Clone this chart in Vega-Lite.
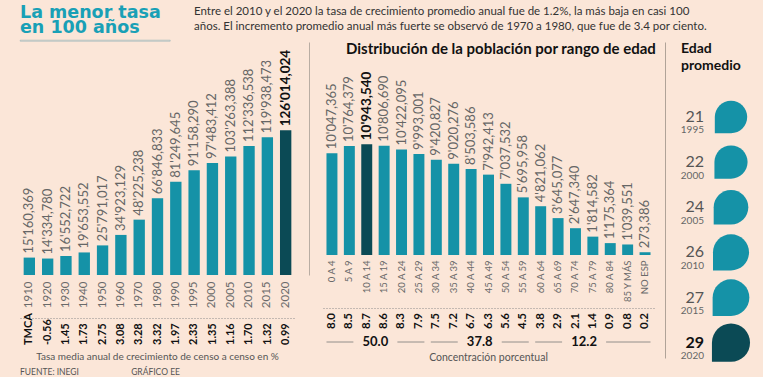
{
  "$schema": "https://vega.github.io/schema/vega-lite/v6.json",
  "background": "#fbe6d8",
  "padding": {"left": 19, "top": 3, "right": 0, "bottom": 0},
  "config": {
    "font": "Lato",
    "view": {"stroke": null},
    "axis": {"grid": false, "ticks": false, "title": null, "labelFont": "Lato", "minExtent": 0},
    "title": {"font": "Lato"}
  },
  "datasets": {
    "pop": [
      {"year": "1910", "pop": 15160369, "label": "15'160,369", "tmca": "TMCA"},
      {"year": "1920", "pop": 14334780, "label": "14'334,780", "tmca": "-0.56"},
      {"year": "1930", "pop": 16552722, "label": "16'552,722", "tmca": "1.45"},
      {"year": "1940", "pop": 19653552, "label": "19'653,552", "tmca": "1.73"},
      {"year": "1950", "pop": 25791017, "label": "25'791,017", "tmca": "2.75"},
      {"year": "1960", "pop": 34923129, "label": "34'923,129", "tmca": "3.08"},
      {"year": "1970", "pop": 48225238, "label": "48'225,238", "tmca": "3.28"},
      {"year": "1980", "pop": 66846833, "label": "66'846,833", "tmca": "3.32"},
      {"year": "1990", "pop": 81249645, "label": "81'249,645", "tmca": "1.97"},
      {"year": "1995", "pop": 91158290, "label": "91'158,290", "tmca": "2.33"},
      {"year": "2000", "pop": 97483412, "label": "97'483,412", "tmca": "1.35"},
      {"year": "2005", "pop": 103263388, "label": "103'263,388", "tmca": "1.16"},
      {"year": "2010", "pop": 112336538, "label": "112'336,538", "tmca": "1.70"},
      {"year": "2015", "pop": 119938473, "label": "119'938,473", "tmca": "1.32"},
      {"year": "2020", "pop": 126014024, "label": "126'014,024", "tmca": "0.99"}
    ],
    "age": [
      {"grupo": "0 A 4", "pop": 10047365, "label": "10'047,365", "pct": 8.0},
      {"grupo": "5 A 9", "pop": 10764379, "label": "10'764,379", "pct": 8.5},
      {"grupo": "10 A 14", "pop": 10943540, "label": "10'943,540", "pct": 8.7},
      {"grupo": "15 A 19", "pop": 10806690, "label": "10'806,690", "pct": 8.6},
      {"grupo": "20 A 24", "pop": 10422095, "label": "10'422,095", "pct": 8.3},
      {"grupo": "25 A 29", "pop": 9993001, "label": "9'993,001", "pct": 7.9},
      {"grupo": "30 A 34", "pop": 9420827, "label": "9'420,827", "pct": 7.5},
      {"grupo": "35 A 39", "pop": 9020276, "label": "9'020,276", "pct": 7.2},
      {"grupo": "40 A 44", "pop": 8503586, "label": "8'503,586", "pct": 6.7},
      {"grupo": "45 A 49", "pop": 7942413, "label": "7'942,413", "pct": 6.3},
      {"grupo": "50 A 54", "pop": 7037532, "label": "7'037,532", "pct": 5.6},
      {"grupo": "55 A 59", "pop": 5695958, "label": "5'695,958", "pct": 4.5},
      {"grupo": "60 A 64", "pop": 4821062, "label": "4'821,062", "pct": 3.8},
      {"grupo": "65 A 69", "pop": 3645077, "label": "3'645,077", "pct": 2.9},
      {"grupo": "70 A 74", "pop": 2647340, "label": "2'647,340", "pct": 2.1},
      {"grupo": "75 A 79", "pop": 1814582, "label": "1'814,582", "pct": 1.4},
      {"grupo": "80 A 84", "pop": 1175364, "label": "1'175,364", "pct": 0.9},
      {"grupo": "85 Y MÁS", "pop": 1039551, "label": "1'039,551", "pct": 0.8},
      {"grupo": "NO ESP", "pop": 273386, "label": "273,386", "pct": 0.2}
    ],
    "grp": [
      {"total": "50.0", "first": "0 A 4", "last": "25 A 29", "center": "15 A 19"},
      {"total": "37.8", "first": "30 A 34", "last": "55 A 59", "center": "45 A 49"},
      {"total": "12.2", "first": "60 A 64", "last": "NO ESP", "center": "75 A 79"}
    ],
    "avg": [
      {"year": "1995", "edad": 21},
      {"year": "2000", "edad": 22},
      {"year": "2005", "edad": 24},
      {"year": "2010", "edad": 26},
      {"year": "2015", "edad": 27},
      {"year": "2020", "edad": 29}
    ]
  },
  "spacing": 0,
  "vconcat": [
    {
      "bounds": "flush",
      "spacing": 24,
      "hconcat": [
        {
          "width": 150,
          "height": 1,
          "view": {"stroke": "#9fb7bb", "strokeWidth": 0.7},
          "title": {"text": ["La menor tasa", "en 100 años"], "anchor": "start", "font": "DejaVu Sans", "fontSize": 17.5, "fontWeight": "bold", "color": "#19a0b6", "lineHeight": 14.5, "offset": 4},
          "data": {"values": []},
          "mark": "point"
        },
        {
          "width": 1,
          "height": 1,
          "title": {"text": ["Entre el 2010 y el 2020 la tasa de crecimiento promedio anual fue de 1.2%, la más baja en casi 100", "años. El incremento promedio anual más fuerte se observó de 1970 a 1980, que fue de 3.4 por ciento."], "anchor": "start", "fontSize": 11.5, "fontWeight": "normal", "color": "#333333", "lineHeight": 15, "offset": 8},
          "data": {"values": []},
          "mark": "point"
        }
      ]
    },
    {
      "spacing": 14,
      "hconcat": [
        {
          "spacing": 5,
          "title": {"text": "FUENTE: INEGI\u00a0\u00a0\u00a0\u00a0\u00a0\u00a0\u00a0\u00a0\u00a0\u00a0\u00a0\u00a0\u00a0\u00a0\u00a0\u00a0\u00a0\u00a0\u00a0\u00a0\u00a0\u00a0\u00a0\u00a0GRÁFICO EE", "orient": "bottom", "anchor": "start", "fontSize": 8.5, "fontWeight": "normal", "color": "#555555", "offset": 6},
          "vconcat": [
            {
              "width": 275,
              "height": 233,
              "data": {"name": "pop"},
              "encoding": {
                "x": {"field": "year", "type": "ordinal", "scale": {"domain": ["1910","1920","1930","1940","1950","1960","1970","1980","1990","1995","2000","2005","2010","2015","2020"], "paddingInner": 0.38, "paddingOuter": 0.2}, "axis": {"labelAngle": 270, "labelColor": "#6a6a6a", "labelFontSize": 11.5, "labelPadding": 6, "domainOpacity": 0}},
                "y": {"field": "pop", "type": "quantitative", "scale": {"domain": [0, 203000000]}, "axis": {"orient": "right", "offset": 14, "labels": false, "domainColor": "#b9ada3"}}
              },
              "layer": [
                {"mark": {"type": "bar"}, "encoding": {"color": {"condition": {"test": "datum.year === '2020'", "value": "#0b4a55"}, "value": "#1592a7"}}},
                {"transform": [{"filter": "datum.year !== '2020'"}], "mark": {"type": "text", "angle": 270, "align": "left", "baseline": "middle", "dx": 4, "fontSize": 13, "color": "#666666"}, "encoding": {"text": {"field": "label"}}},
                {"transform": [{"filter": "datum.year === '2020'"}], "mark": {"type": "text", "angle": 270, "align": "left", "baseline": "middle", "dx": 4, "fontSize": 13.5, "fontWeight": "bold", "color": "#111111"}, "encoding": {"text": {"field": "label"}}},
                {"data": {"values": [{}]}, "mark": {"type": "text", "text": ["Evolución de la", "población en", "México"], "align": "left", "baseline": "top", "fontSize": 15, "fontWeight": "bold", "lineHeight": 16, "color": "#111111"}, "encoding": {"x": {"datum": "1910", "bandPosition": 0}, "y": {"datum": 182000000}}}
              ]
            },
            {
              "width": 275,
              "height": 30,
              "data": {"name": "pop"},
              "title": {"text": "Tasa media anual de crecimiento de censo a censo en %", "orient": "bottom", "fontSize": 10, "fontWeight": "normal", "color": "#555555", "offset": 4},
              "mark": {"type": "text", "angle": 270, "align": "left", "baseline": "middle", "dx": -12, "fontSize": 11, "fontWeight": "bold", "color": "#111111"},
              "encoding": {
                "x": {"field": "year", "type": "ordinal", "scale": {"domain": ["1910","1920","1930","1940","1950","1960","1970","1980","1990","1995","2000","2005","2010","2015","2020"], "paddingInner": 0.38, "paddingOuter": 0.2}, "axis": {"orient": "top", "labels": false, "domainDash": [1, 2], "domainColor": "#8c8c8c"}},
                "text": {"field": "tmca"}
              }
            }
          ]
        },
        {
          "spacing": 8,
          "hconcat": [
            {
              "spacing": 5,
              "title": {"text": "Distribución de la población por rango de edad", "anchor": "start", "dx": 23, "fontSize": 15, "fontWeight": "bold", "color": "#111111", "offset": -15},
              "vconcat": [
                {
                  "width": 331,
                  "height": 213,
                  "data": {"name": "age"},
                  "encoding": {
                    "x": {"field": "grupo", "type": "ordinal", "scale": {"domain": ["0 A 4","5 A 9","10 A 14","15 A 19","20 A 24","25 A 29","30 A 34","35 A 39","40 A 44","45 A 49","50 A 54","55 A 59","60 A 64","65 A 69","70 A 74","75 A 79","80 A 84","85 Y MÁS","NO ESP"], "paddingInner": 0.37, "paddingOuter": 0.2}, "axis": {"labelAngle": 270, "labelColor": "#6a6a6a", "labelFontSize": 9.5, "labelPadding": 5, "domainOpacity": 0}},
                    "y": {"field": "pop", "type": "quantitative", "scale": {"domain": [0, 21050000]}, "axis": null}
                  },
                  "layer": [
                    {"mark": {"type": "bar"}, "encoding": {"color": {"condition": {"test": "datum.grupo === '10 A 14'", "value": "#0b4a55"}, "value": "#1592a7"}}},
                    {"transform": [{"filter": "datum.grupo !== '10 A 14'"}], "mark": {"type": "text", "angle": 270, "align": "left", "baseline": "middle", "dx": 4, "fontSize": 13, "color": "#666666"}, "encoding": {"text": {"field": "label"}}},
                    {"transform": [{"filter": "datum.grupo === '10 A 14'"}], "mark": {"type": "text", "angle": 270, "align": "left", "baseline": "middle", "dx": 4, "fontSize": 13.5, "fontWeight": "bold", "color": "#111111"}, "encoding": {"text": {"field": "label"}}},
                    {"data": {"values": [{}]}, "mark": {"type": "rect", "color": "#ffe500"}, "encoding": {"x": {"datum": "60 A 64", "bandPosition": -0.45}, "x2": {"datum": "NO ESP", "bandPosition": 1.3}, "y": {"datum": 18480000}, "y2": {"datum": 14820000}}},
                    {"data": {"values": [{}]}, "mark": {"type": "text", "text": "Población total en 2020", "fontSize": 11, "color": "#222222", "baseline": "middle"}, "encoding": {"x": {"datum": "75 A 79"}, "y": {"datum": 17390000}}},
                    {"data": {"values": [{}]}, "mark": {"type": "text", "text": "126'014,024", "fontSize": 18.5, "fontWeight": "bold", "color": "#111111", "baseline": "middle"}, "encoding": {"x": {"datum": "75 A 79"}, "y": {"datum": 15610000}}}
                  ]
                },
                {
                  "width": 331,
                  "height": 16,
                  "data": {"name": "age"},
                  "mark": {"type": "text", "angle": 270, "align": "center", "baseline": "middle", "dx": -5, "fontSize": 11.5, "fontWeight": "bold", "color": "#111111"},
                  "encoding": {
                    "x": {"field": "grupo", "type": "ordinal", "scale": {"domain": ["0 A 4","5 A 9","10 A 14","15 A 19","20 A 24","25 A 29","30 A 34","35 A 39","40 A 44","45 A 49","50 A 54","55 A 59","60 A 64","65 A 69","70 A 74","75 A 79","80 A 84","85 Y MÁS","NO ESP"], "paddingInner": 0.37, "paddingOuter": 0.2}, "axis": {"orient": "top", "labels": false, "domainDash": [1, 2], "domainColor": "#8c8c8c"}},
                    "text": {"field": "pct", "type": "quantitative", "format": ".1f"}
                  }
                },
                {
                  "width": 331,
                  "height": 14,
                  "data": {"name": "grp"},
                  "title": {"text": "Concentración porcentual", "orient": "bottom", "fontSize": 10.5, "fontWeight": "normal", "color": "#555555", "offset": 4},
                  "layer": [
                    {"mark": {"type": "rule", "color": "#7a7a7a", "strokeWidth": 0.8}, "encoding": {"x": {"field": "first", "type": "ordinal", "bandPosition": 0, "scale": {"domain": ["0 A 4","5 A 9","10 A 14","15 A 19","20 A 24","25 A 29","30 A 34","35 A 39","40 A 44","45 A 49","50 A 54","55 A 59","60 A 64","65 A 69","70 A 74","75 A 79","80 A 84","85 Y MÁS","NO ESP"], "paddingInner": 0.37, "paddingOuter": 0.2}, "axis": {"labels": false, "domainOpacity": 0}}, "x2": {"field": "last", "bandPosition": 1}}},
                    {"mark": {"type": "point", "shape": "M-2.2,-0.6H2.2V0.6H-2.2Z", "size": 400, "filled": true, "color": "#fbe6d8", "opacity": 1, "strokeWidth": 0}, "encoding": {"x": {"field": "center", "type": "ordinal", "bandPosition": -0.3}}},
                    {"mark": {"type": "text", "fontSize": 13, "fontWeight": "bold", "color": "#111111", "baseline": "middle"}, "encoding": {"x": {"field": "center", "type": "ordinal", "bandPosition": -0.3}, "text": {"field": "total"}}}
                  ]
                }
              ]
            },
            {
              "width": 64,
              "height": 316,
              "data": {"name": "avg"},
              "title": {"text": ["Edad", "promedio"], "anchor": "start", "dx": 16, "fontSize": 14, "fontWeight": "bold", "color": "#111111", "lineHeight": 17, "offset": -31},
              "encoding": {
                "y": {"field": "year", "type": "ordinal", "sort": null, "scale": {"type": "point", "padding": 1.45, "align": 0.83}, "axis": {"orient": "left", "offset": 34, "labels": false, "domainColor": "#b0a398", "minExtent": 0}}
              },
              "layer": [
                {"mark": {"type": "point", "shape": "M-1,1L-1,0A1,1 0 0,1 0,-1A1,1 0 0,1 1,0A1,1 0 0,1 0,1Z", "filled": true, "opacity": 1, "strokeWidth": 0}, "encoding": {"size": {"field": "edad", "type": "quantitative", "scale": {"domain": [21, 29], "range": [1050, 1450]}, "legend": null}, "color": {"condition": {"test": "datum.year === '2020'", "value": "#0b4a55"}, "value": "#1592a7"}}},
                {"transform": [{"filter": "datum.year !== '2020'"}], "mark": {"type": "text", "align": "right", "baseline": "alphabetic", "dx": -27, "dy": 5, "fontSize": 16, "color": "#555555"}, "encoding": {"text": {"field": "edad"}}},
                {"transform": [{"filter": "datum.year === '2020'"}], "mark": {"type": "text", "align": "right", "baseline": "alphabetic", "dx": -27, "dy": 5, "fontSize": 16, "fontWeight": "bold", "color": "#111111"}, "encoding": {"text": {"field": "edad"}}},
                {"mark": {"type": "text", "align": "right", "baseline": "alphabetic", "dx": -27, "dy": 16.5, "fontSize": 10, "color": "#666666"}, "encoding": {"text": {"field": "year"}}}
              ]
            }
          ]
        }
      ]
    }
  ]
}
